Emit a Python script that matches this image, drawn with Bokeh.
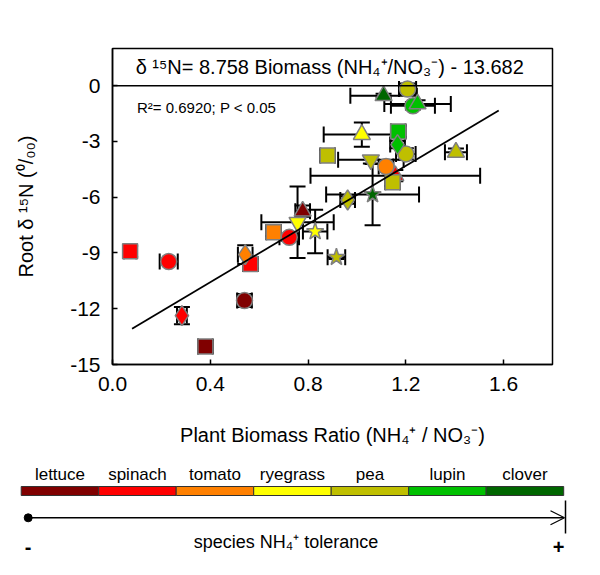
from bokeh.plotting import figure
from bokeh.models import (Range1d, ColumnDataSource, Whisker, TeeHead, Span, Label,
                          FixedTicker, Arrow, OpenHead)
from bokeh.layouts import column
from bokeh.embed import file_html
from bokeh.resources import INLINE
from bokeh.core.properties import value

# ---------------- data ----------------
species = ["lettuce", "spinach", "tomato", "ryegrass", "pea", "lupin", "clover"]
species_colors = ["#800000", "#FF0000", "#FF8000", "#FFFF00", "#BFBF00", "#00C000", "#006600"]

pt_species = ["lettuce", "lettuce", "lettuce",
              "spinach", "spinach", "spinach", "spinach", "spinach", "spinach",
              "tomato", "tomato", "tomato",
              "ryegrass", "ryegrass", "ryegrass",
              "pea", "pea", "pea", "pea", "pea", "pea", "pea", "pea",
              "lupin", "lupin", "lupin", "lupin",
              "clover", "clover"]
pt_marker = ["square", "circle", "triangle",
             "square", "circle", "square", "diamond", "circle", "triangle",
             "diamond", "square", "circle",
             "inverted_triangle", "star", "triangle",
             "star", "diamond", "square", "inverted_triangle", "square", "circle", "triangle", "circle",
             "square", "diamond", "circle", "triangle",
             "triangle", "star"]
pt_x = [0.38, 0.54, 0.778,
        0.072, 0.23, 0.564, 0.284, 0.723, 1.157,
        0.543, 0.659, 1.119,
        0.757, 0.829, 1.02,
        0.916, 0.962, 0.88, 1.057, 1.146, 1.2, 1.405, 1.207,
        1.169, 1.166, 1.229, 1.248,
        1.109, 1.064]
pt_y = [-14.03, -11.56, -6.75,
        -8.91, -9.46, -9.59, -12.37, -8.16, -4.84,
        -9.09, -7.89, -4.35,
        -7.35, -7.85, -2.63,
        -9.23, -6.15, -3.76, -3.99, -5.2, -3.67, -3.58, -0.18,
        -2.46, -3.17, -1.08, -0.98,
        -0.54, -5.86]
pt_xerr = [0.03, 0.03, 0.03,
           0.025, 0.037, 0.03, 0.02, 0.04, 0.347,
           0.03, 0.03, 0.03,
           0.148, 0.05, 0.156,
           0.036, 0.03, 0.03, 0.134, 0.03, 0.04, 0.045, 0.035,
           0.03, 0.03, 0.09, 0.136,
           0.136, 0.19]
pt_yerr = [0.35, 0.35, 0.3,
           0.3, 0.1, 0.25, 0.47, 0.2, 0.3,
           0.5, 0.2, 0.2,
           1.92, 1.17, 0.65,
           0.1, 0.2, 0.3, 0.2, 0.2, 0.3, 0.2, 0.3,
           0.3, 0.2, 0.2, 0.2,
           0.1, 1.65]

fit_x = [0.08, 1.58]
fit_y = [-13.08, -1.34]

x_ticks = [0.0, 0.4, 0.8, 1.2, 1.6]
y_ticks = [0, -3, -6, -9, -12, -15]

FONT = "Liberation Sans"

# ---------------- geometry (pixels) ----------------
W = 596
H1, H2 = 460, 112
FL, FR, FT, FB = 112, 552, 48, 364          # frame edges on the page
XMIN, XMAX, YMIN, YMAX = 0.0, 1.8, -15.0, 2.0

# ---------------- main plot ----------------
p = figure(width=W, height=H1, x_range=Range1d(XMIN, XMAX), y_range=Range1d(YMIN, YMAX),
           toolbar_location=None, output_backend="svg",
           min_border_left=FL, min_border_right=W - FR, min_border_top=FT, min_border_bottom=H1 - FB)
p.frame_align = False
p.grid.visible = False
p.outline_line_color = "black"
p.outline_line_width = 1.5
p.background_fill_color = "white"
p.border_fill_color = "white"

color_map = dict(zip(species, species_colors))
cols = [color_map[s] for s in pt_species]

src = ColumnDataSource(dict(
    x=pt_x, y=pt_y,
    xl=[a - b for a, b in zip(pt_x, pt_xerr)], xu=[a + b for a, b in zip(pt_x, pt_xerr)],
    yl=[a - b for a, b in zip(pt_y, pt_yerr)], yu=[a + b for a, b in zip(pt_y, pt_yerr)],
    color=cols, marker=pt_marker,
))

for dim, base, lo, up in [("width", "y", "xl", "xu"), ("height", "x", "yl", "yu")]:
    w = Whisker(source=src, base=base, lower=lo, upper=up, dimension=dim,
                line_color="black", line_width=2,
                lower_head=TeeHead(size=16, line_width=2, line_color="black"),
                upper_head=TeeHead(size=16, line_width=2, line_color="black"))
    p.add_layout(w)

sizes = {"square": 15, "circle": 16, "diamond": 20, "triangle": 17,
         "inverted_triangle": 17, "star": 18}
src.data["size"] = [sizes[m] for m in pt_marker]
p.scatter("x", "y", source=src, marker="marker", size="size", fill_color="color",
          line_color="#7F7F7F", line_width=1.5)

p.line(fit_x, fit_y, line_color="black", line_width=1.8)

p.add_layout(Span(location=0, dimension="width", line_color="black", line_width=1.5))

p.add_layout(Label(x=(XMIN + XMAX) / 2, y=1.0, text="δ ¹⁵N= 8.758 Biomass (NH₄⁺/NO₃⁻)  - 13.682",
                   text_align="center", text_baseline="middle", text_font=FONT,
                   text_font_size="20px", text_color="black"))
p.add_layout(Label(x=0.1, y=-1.2, text="R²= 0.6920; P < 0.05",
                   text_baseline="middle", text_font=FONT, text_font_size="15px",
                   text_color="black"))

# axes
p.xaxis.ticker = FixedTicker(ticks=x_ticks)
p.xaxis.major_label_overrides = {t: f"{t:.1f}" for t in x_ticks}
p.yaxis.ticker = FixedTicker(ticks=y_ticks)
p.yaxis.major_label_overrides = {t: str(t) for t in y_ticks}
for ax in (p.xaxis, p.yaxis):
    ax.major_tick_in = 5
    ax.major_tick_out = 0
    ax.minor_tick_in = 0
    ax.minor_tick_out = 0
    ax.axis_line_color = "black"
    ax.axis_line_width = 1.5
    ax.major_tick_line_width = 1.5
    ax.major_label_text_font = FONT
    ax.major_label_text_font_size = "21px"
    ax.major_label_text_color = "black"
    ax.axis_label_text_font = FONT
    ax.axis_label_text_font_size = "20px"
    ax.axis_label_text_font_style = "normal"
    ax.axis_label_text_color = "black"
p.xaxis.axis_label = "Plant Biomass Ratio (NH₄⁺ / NO₃⁻)"
p.yaxis.axis_label = "Root δ ¹⁵N (⁰/₀₀)"
p.xaxis.major_label_standoff = 12
p.xaxis.axis_label_standoff = 30
p.yaxis.major_label_standoff = 12
p.yaxis.axis_label_standoff = 30

# ---------------- species tolerance strip (page-pixel coordinates) ----------------
q = figure(width=W, height=H2, x_range=Range1d(0, W), y_range=Range1d(H1 + H2, H1),
           toolbar_location=None, output_backend="svg",
           x_axis_location=None, y_axis_location=None, min_border=0)
q.frame_align = False
q.grid.visible = False
q.outline_line_color = None

n = len(species)
bar_left, bar_right = 20.7, 563.2
seg_w = (bar_right - bar_left) / n
lefts = [bar_left + i * seg_w for i in range(n)]
rights = [l + seg_w for l in lefts]
centers = [l + seg_w / 2 for l in lefts]
q.quad(left=lefts, right=rights, top=[486] * n, bottom=[495] * n,
       fill_color=species_colors, line_color="#333333", line_width=1)
q.text(x=centers, y=[474] * n, text=species, text_align="center", text_baseline="middle",
       text_font=value(FONT), text_font_size="17px", text_color="black")

q.add_layout(Arrow(start=None, end=OpenHead(size=14, line_width=1.2, line_color="black"),
                   x_start=27.7, y_start=517.3, x_end=564, y_end=517.3,
                   line_width=1.5, line_color="black"))
q.scatter([27.7], [517.3], size=8, color="black")
q.segment(x0=[565], y0=[500], x1=[565], y1=[533], line_color="black", line_width=1.5)
q.text(x=[288], y=[541.5], text=["species  NH₄⁺ tolerance"], text_align="center",
       text_baseline="middle", text_font=value(FONT), text_font_size="18px", text_color="black")
q.text(x=[27.7, 558], y=[546, 546], text=["-", "+"], text_align="center",
       text_baseline="middle", text_font=value(FONT), text_font_size="20px",
       text_font_style="bold", text_color="black")

layout = column(p, q, spacing=0)
open("out.html", "w").write(file_html(layout, INLINE))
